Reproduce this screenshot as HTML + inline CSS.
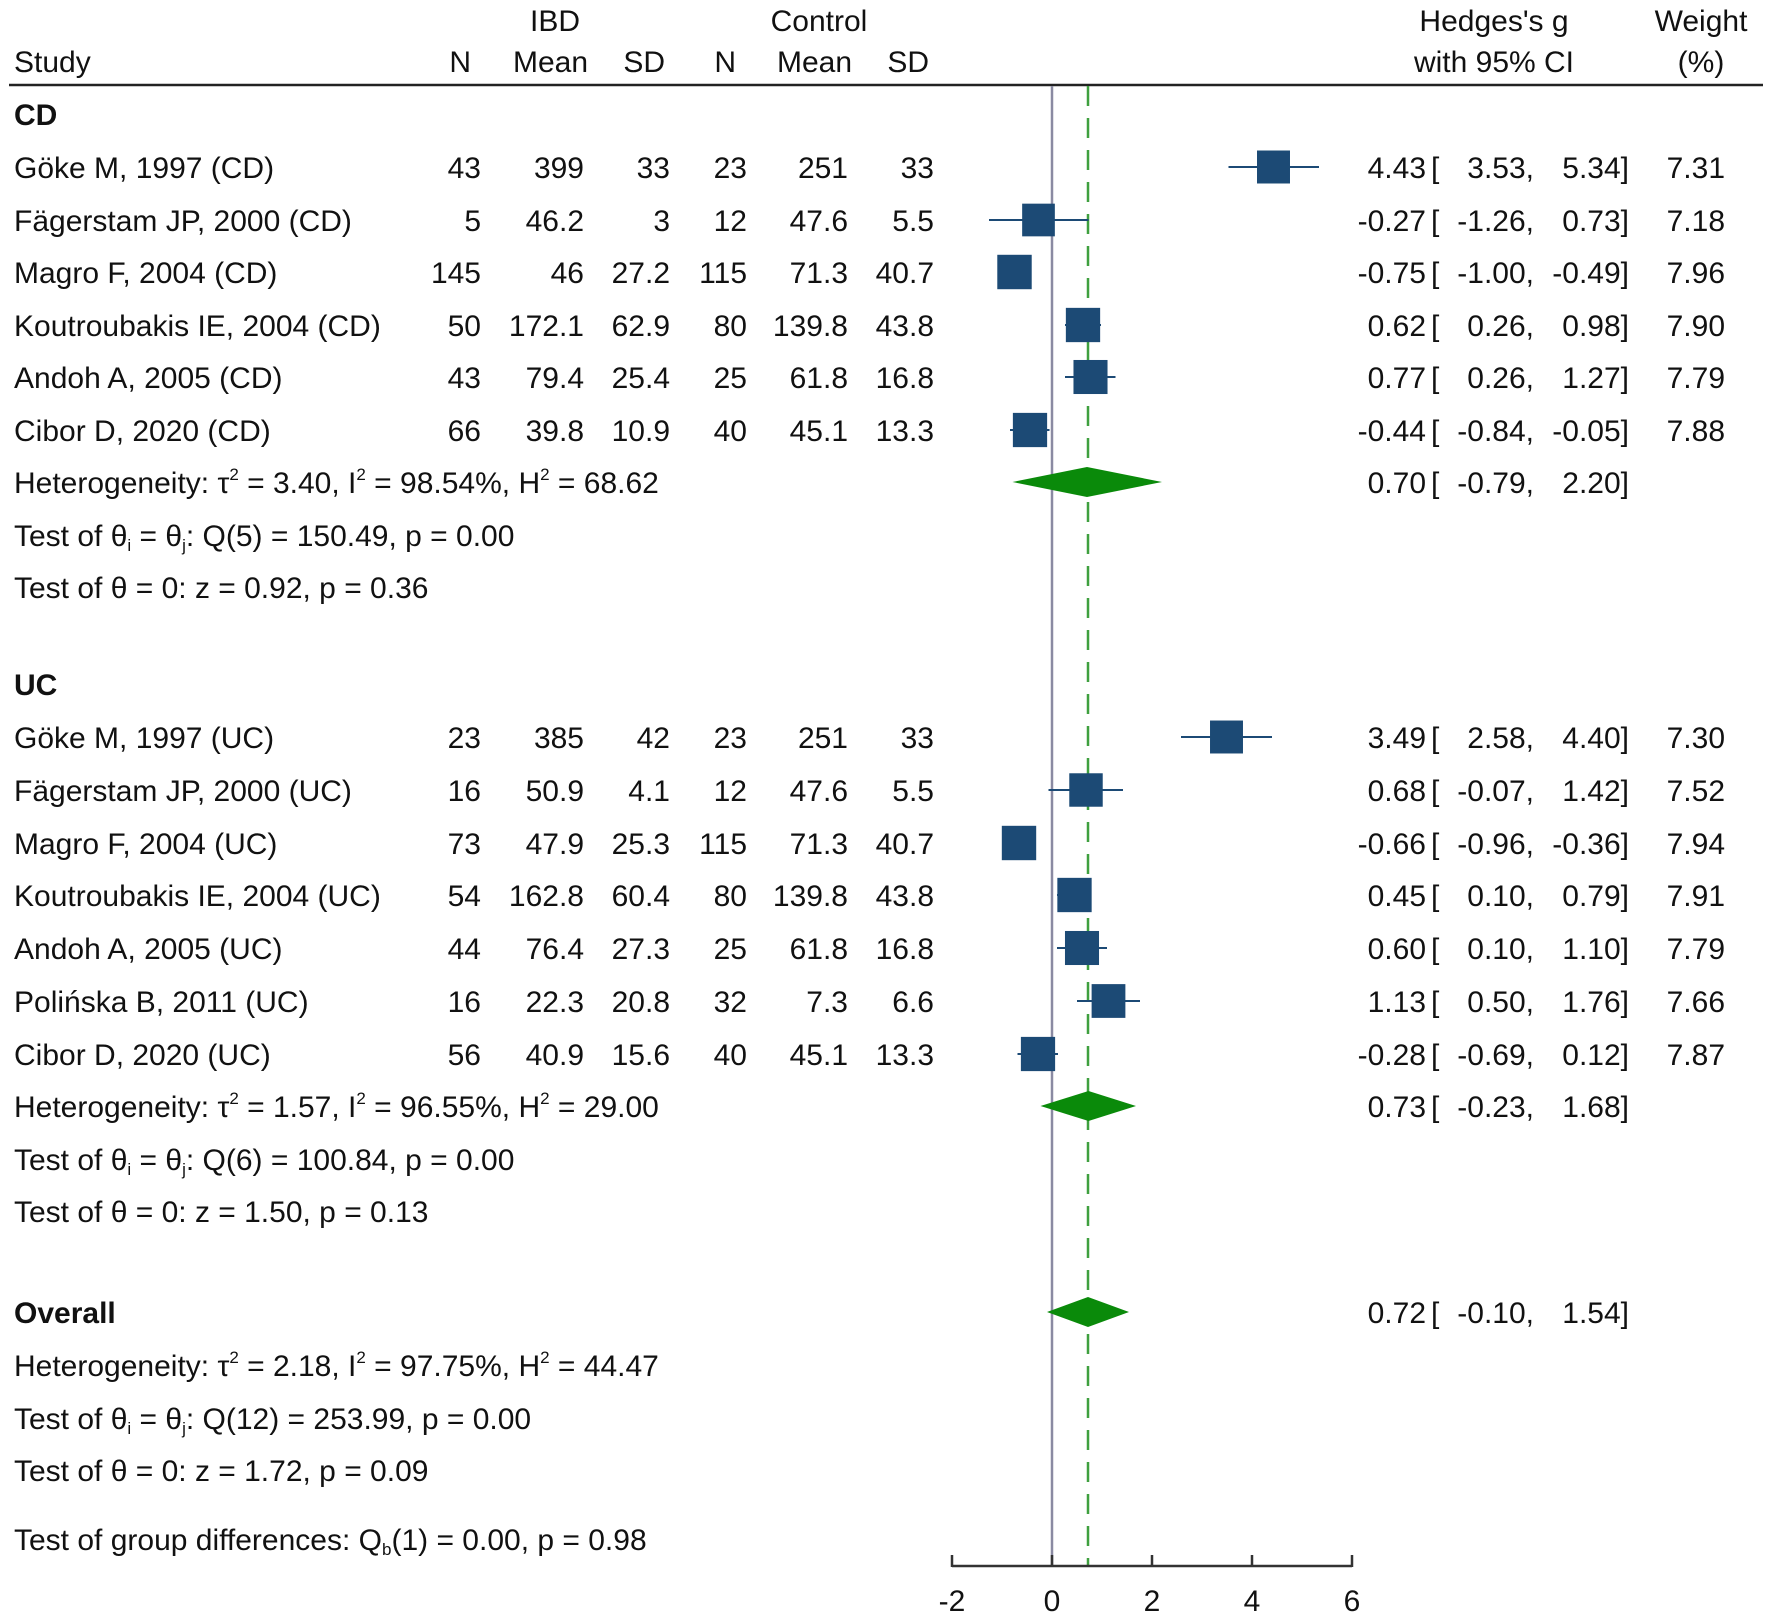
<!DOCTYPE html>
<html><head><meta charset="utf-8"><style>
body{margin:0;background:#fff}
svg text{font-family:"Liberation Sans",Arial,sans-serif;font-size:30px;fill:#111}
</style></head><body>
<svg id="c" width="1772" height="1617" xmlns="http://www.w3.org/2000/svg">
<g>
<text x="14" y="72">Study</text>
<text x="555" y="31" text-anchor="middle">IBD</text>
<text x="819" y="31" text-anchor="middle">Control</text>
<text x="471" y="72" text-anchor="end">N</text>
<text x="588" y="72" text-anchor="end">Mean</text>
<text x="665" y="72" text-anchor="end">SD</text>
<text x="736" y="72" text-anchor="end">N</text>
<text x="852" y="72" text-anchor="end">Mean</text>
<text x="929" y="72" text-anchor="end">SD</text>
<text x="1494" y="31" text-anchor="middle">Hedges's g</text>
<text x="1494" y="72" text-anchor="middle">with 95% CI</text>
<text x="1701" y="31" text-anchor="middle">Weight</text>
<text x="1701" y="72" text-anchor="middle">(%)</text>
<line x1="9" y1="85" x2="1763" y2="85" stroke="#222" stroke-width="2.5"/>
</g>
<g id="plot"></g>
</svg>
<script>
const studies=["Göke M, 1997 (CD)","Fägerstam JP, 2000 (CD)","Magro F, 2004 (CD)","Koutroubakis IE, 2004 (CD)","Andoh A, 2005 (CD)","Cibor D, 2020 (CD)",
"Göke M, 1997 (UC)","Fägerstam JP, 2000 (UC)","Magro F, 2004 (UC)","Koutroubakis IE, 2004 (UC)","Andoh A, 2005 (UC)","Polińska B, 2011 (UC)","Cibor D, 2020 (UC)"];
const ibdN=["43","5","145","50","43","66","23","16","73","54","44","16","56"];
const ibdMean=["399","46.2","46","172.1","79.4","39.8","385","50.9","47.9","162.8","76.4","22.3","40.9"];
const ibdSD=["33","3","27.2","62.9","25.4","10.9","42","4.1","25.3","60.4","27.3","20.8","15.6"];
const ctlN=["23","12","115","80","25","40","23","12","115","80","25","32","40"];
const ctlMean=["251","47.6","71.3","139.8","61.8","45.1","251","47.6","71.3","139.8","61.8","7.3","45.1"];
const ctlSD=["33","5.5","40.7","43.8","16.8","13.3","33","5.5","40.7","43.8","16.8","6.6","13.3"];
const est=[4.43,-0.27,-0.75,0.62,0.77,-0.44,3.49,0.68,-0.66,0.45,0.60,1.13,-0.28];
const lo=[3.53,-1.26,-1.00,0.26,0.26,-0.84,2.58,-0.07,-0.96,0.10,0.10,0.50,-0.69];
const hi=[5.34,0.73,-0.49,0.98,1.27,-0.05,4.40,1.42,-0.36,0.79,1.10,1.76,0.12];
const weight=[7.31,7.18,7.96,7.90,7.79,7.88,7.30,7.52,7.94,7.91,7.79,7.66,7.87];
const rowY=[167,220,272,325,377,430,737,790,843,895,948,1001,1054];
const sumEst=[0.70,0.73,0.72];
const sumLo=[-0.79,-0.23,-0.10];
const sumHi=[2.20,1.68,1.54];
const sumY=[482,1106,1312];
const ticks=[-2,0,2,4,6];
const overall=0.72;

const NS="http://www.w3.org/2000/svg";
const g=document.getElementById('plot');
const X=v=>1052+50*v;
function mk(tag,attrs,text){const e=document.createElementNS(NS,tag);for(const k in attrs)e.setAttribute(k,attrs[k]);if(text!==undefined)e.textContent=text;g.appendChild(e);return e;}
const f2=v=>v.toFixed(2);

let e=mk('line',{x1:X(0),y1:86,x2:X(0),y2:1566,stroke:'#8a8aa2','stroke-width':2.5});


e=mk('line',{x1:X(overall),y1:86,x2:X(overall),y2:1566,stroke:'#3fa03f','stroke-width':2.5,'stroke-dasharray':'20,12'});



for(let i=0;i<studies.length;i++){
  const y=rowY[i],b=y+11;
  e=mk('text',{x:14,y:b},studies[i]);
  
  
  const cols=[[481,ibdMean===null?null:ibdN],[584,ibdMean],[670,ibdSD],[747,ctlN],[848,ctlMean],[934,ctlSD]];
  for(const [cx,arr] of cols){
    e=mk('text',{x:cx,y:b,'text-anchor':'end'},arr[i]);
    
    
  }
  e=mk('line',{x1:X(lo[i]),y1:y,x2:X(hi[i]),y2:y,stroke:'#1c4a75','stroke-width':2});
  
  
  const s=12.2*Math.sqrt(weight[i]);
  e=mk('rect',{x:X(est[i])-s/2,y:y-s/2,width:s,height:s,fill:'#1c4a75'});
  
  
  e=mk('text',{x:1426,y:b,'text-anchor':'end'},f2(est[i]));
  
  
  e=mk('text',{x:1431,y:b},'[');
  
  
  e=mk('text',{x:1534,y:b,'text-anchor':'end'},f2(lo[i])+',');
  
  
  e=mk('text',{x:1629,y:b,'text-anchor':'end'},f2(hi[i])+']');
  
  
  e=mk('text',{x:1725,y:b,'text-anchor':'end'},weight[i].toFixed(2));
  
  
}
for(let i=0;i<sumEst.length;i++){
  const y=sumY[i],b=y+11;
  e=mk('polygon',{points:`${X(sumLo[i])},${y} ${X(sumEst[i])},${y-15} ${X(sumHi[i])},${y} ${X(sumEst[i])},${y+15}`,fill:'#0a8a0a'});
  
  
  e=mk('text',{x:1426,y:b,'text-anchor':'end'},f2(sumEst[i]));
  
  
  e=mk('text',{x:1431,y:b},'[');
  
  
  e=mk('text',{x:1534,y:b,'text-anchor':'end'},f2(sumLo[i])+',');
  
  
  e=mk('text',{x:1629,y:b,'text-anchor':'end'},f2(sumHi[i])+']');
  
  
}
e=mk('line',{x1:X(ticks[0]),y1:1566,x2:X(ticks[ticks.length-1]),y2:1566,stroke:'#333','stroke-width':2.5});


for(const t of ticks){
  e=mk('line',{x1:X(t),y1:1555,x2:X(t),y2:1567,stroke:'#333','stroke-width':2.5});
  
  
  e=mk('text',{x:X(t),y:1611,'text-anchor':'middle'},String(t));
  
  
}
const sup=v=>`<tspan dy="-13" font-size="17">${v}</tspan>`;
const statHTML=[
 [125,'<tspan font-weight="bold">CD</tspan>','cd-group-label'],
 [493,'Heterogeneity: τ'+sup(2)+'<tspan dy="13"> = 3.40, I</tspan>'+sup(2)+'<tspan dy="13"> = 98.54%, H</tspan>'+sup(2)+'<tspan dy="13"> = 68.62</tspan>','cd-heterogeneity'],
 [546,'Test of θ<tspan dy="5" font-size="17">i</tspan><tspan dy="-5"> = θ</tspan><tspan dy="5" font-size="17">j</tspan><tspan dy="-5">: Q(5) = 150.49, p = 0.00</tspan>','cd-q-test'],
 [598,'Test of θ = 0: z = 0.92, p = 0.36','cd-z-test'],
 [695,'<tspan font-weight="bold">UC</tspan>','uc-group-label'],
 [1117,'Heterogeneity: τ'+sup(2)+'<tspan dy="13"> = 1.57, I</tspan>'+sup(2)+'<tspan dy="13"> = 96.55%, H</tspan>'+sup(2)+'<tspan dy="13"> = 29.00</tspan>','uc-heterogeneity'],
 [1170,'Test of θ<tspan dy="5" font-size="17">i</tspan><tspan dy="-5"> = θ</tspan><tspan dy="5" font-size="17">j</tspan><tspan dy="-5">: Q(6) = 100.84, p = 0.00</tspan>','uc-q-test'],
 [1222,'Test of θ = 0: z = 1.50, p = 0.13','uc-z-test'],
 [1323,'<tspan font-weight="bold">Overall</tspan>','overall-label'],
 [1376,'Heterogeneity: τ'+sup(2)+'<tspan dy="13"> = 2.18, I</tspan>'+sup(2)+'<tspan dy="13"> = 97.75%, H</tspan>'+sup(2)+'<tspan dy="13"> = 44.47</tspan>','overall-heterogeneity'],
 [1429,'Test of θ<tspan dy="5" font-size="17">i</tspan><tspan dy="-5"> = θ</tspan><tspan dy="5" font-size="17">j</tspan><tspan dy="-5">: Q(12) = 253.99, p = 0.00</tspan>','overall-q-test'],
 [1481,'Test of θ = 0: z = 1.72, p = 0.09','overall-z-test'],
 [1550,'Test of group differences: Q<tspan dy="5" font-size="17">b</tspan><tspan dy="-5">(1) = 0.00, p = 0.98</tspan>','group-diff-test']
];
for(const [y,h,n] of statHTML){
  e=mk('text',{x:14,y:y});
  e.innerHTML=h;
  
  
}
</script>
</body></html>
